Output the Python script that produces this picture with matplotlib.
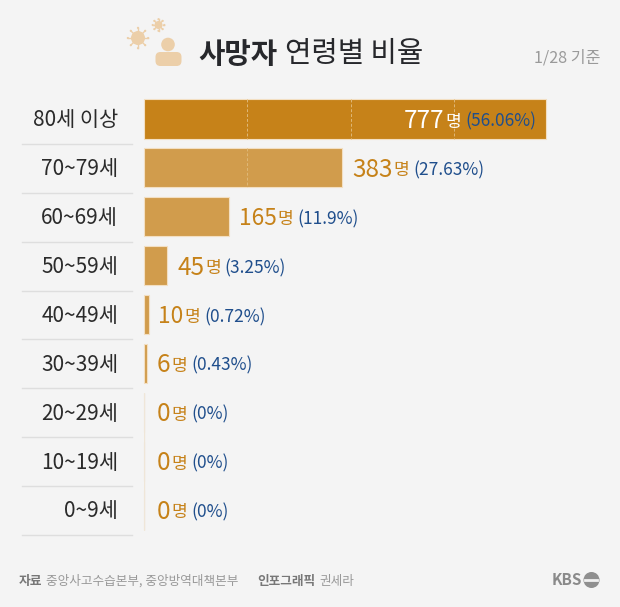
#!/usr/bin/env python3
import numpy as np
import matplotlib
matplotlib.use("Agg")
import matplotlib.pyplot as plt
from matplotlib.patches import Circle, FancyBboxPatch

plt.rcParams["font.family"] = ["Noto Sans CJK KR", "DejaVu Sans"]

ages = ["80세 이상", "70~79세", "60~69세", "50~59세", "40~49세", "30~39세", "20~29세", "10~19세", "0~9세"]
deaths = [777, 383, 165, 45, 10, 6, 0, 0, 0]
shares = ["56.06%", "27.63%", "11.9%", "3.25%", "0.72%", "0.43%", "0%", "0%", "0%"]
grid_ticks = [200, 400, 600]

W, H = 620, 607
BG = "#f4f4f4"
ORANGE = "#c68219"
LIGHT = "#d19c4c"
BLUE = "#1f4e8c"
ICON = "#eccfa9"

fig = plt.figure(figsize=(W / 100, H / 100), dpi=100, facecolor=BG)

# page overlay in pixel coords, y going down
pg = fig.add_axes([0, 0, 1, 1], zorder=3)
pg.set_xlim(0, W)
pg.set_ylim(H, 0)
pg.axis("off")

# bars: 144..546 px is 0..777, rows are 48.87 px apart
row_h = 48.87
top = 119 - row_h / 2
n = len(ages)
ax = fig.add_axes([144 / W, 1 - (top + n * row_h) / H, 402 / W, n * row_h / H], zorder=2)
ax.set_xlim(0, 777)
ax.set_ylim(n - 0.5, -0.5)
ax.axis("off")
ax.patch.set_alpha(0)

y = np.arange(n)
colors = [ORANGE] + [LIGHT] * (n - 1)
ax.barh(y, deaths, height=0.8, color=colors, edgecolor="#f3dfc2", linewidth=0.8, clip_on=False)
ax.vlines(0, 6 - 0.4, 8.4, color="#efe6d8", linewidth=1)

# dashed guides on the long bars
for t in grid_ticks:
    for i, d in enumerate(deaths):
        if d > t:
            ax.plot([t, t], [i - 0.4, i + 0.4], color="#dfb878", lw=0.7, ls=(0, (3, 2)))

renderer = fig.canvas.get_renderer()


def row_label(x, yc, count, share, inside=False):
    # the reference's 1 is narrower than this font's, so those numbers get a smaller size
    size = 16.3 if "1" in str(count) else 17.5
    num = pg.text(x, yc, str(count), fontsize=size, color="white" if inside else ORANGE,
                  va="center", ha="left")
    x1 = num.get_window_extent(renderer).x1
    unit = pg.text(x1 + 1, yc + 0.5, "명", fontsize=12.3, color="white" if inside else ORANGE,
                   va="center", ha="left")
    x2 = unit.get_window_extent(renderer).x1
    pct = pg.text(x2 + 4, yc + 0.5, f"({share})", fontsize=12.5, color=BLUE, va="center", ha="left")
    return pct.get_window_extent(renderer).x1


label_x = [404, 352, 239, 177, 158, 157, 157, 157, 157]
for i in range(n):
    yc = top + row_h * (i + 0.5)
    pg.text(118, yc + 1.5, ages[i], fontsize=15, color="#2b2b2b", ha="right", va="center")
    row_label(label_x[i], yc + 2, deaths[i], shares[i], inside=i == 0)
    pg.plot([22, 132], [yc + row_h / 2 + 0.5] * 2, color="#dedede", lw=1)

# title
pg.text(198, 54, "사망자", fontsize=20.7, fontweight="bold", color="#27282c", va="center", ha="left")
pg.text(285, 54, "연령별 비율", fontsize=20.7, color="#27282c", va="center", ha="left")
pg.text(600, 58, "1/28 기준", fontsize=11.6, color="#9a9a9a", va="center", ha="right")


def virus(cx, cy, r, spikes=8):
    pg.add_patch(Circle((cx, cy), r, color=ICON, lw=0))
    for a in np.linspace(0, 2 * np.pi, spikes, endpoint=False):
        x0, y0 = cx + r * np.cos(a), cy + r * np.sin(a)
        x1, y1 = cx + (r * 1.45) * np.cos(a), cy + (r * 1.45) * np.sin(a)
        pg.plot([x0, x1], [y0, y1], color=ICON, lw=1)
        pg.add_patch(Circle((x1, y1), 1.1, color=ICON, lw=0))


virus(138, 38, 7)
virus(158.5, 25, 4)
pg.add_patch(Circle((168, 44.5), 6.8, color=ICON, lw=0))
pg.add_patch(FancyBboxPatch((155.5, 52), 26, 14, boxstyle="round,pad=0,rounding_size=5", color=ICON, lw=0))

# footer
pg.text(19, 581, "자료", fontsize=9.2, fontweight="bold", color="#777777", va="center")
pg.text(46, 581, "중앙사고수습본부, 중앙방역대책본부", fontsize=9.1, color="#999999", va="center")
pg.text(257, 581, "인포그래픽", fontsize=9.1, fontweight="bold", color="#777777", va="center")
pg.text(319, 581, "권세라", fontsize=9.1, color="#999999", va="center")
pg.text(582, 580, "KBS", fontsize=11, fontweight="bold", color="#8a8a8a", va="center", ha="right")
pg.add_patch(Circle((591.5, 580), 8, color="#8f8f8f", lw=0))
pg.plot([585, 597], [580, 580], color="#f0f0f0", lw=2)

fig.savefig("out.png", dpi=100, facecolor=BG)
